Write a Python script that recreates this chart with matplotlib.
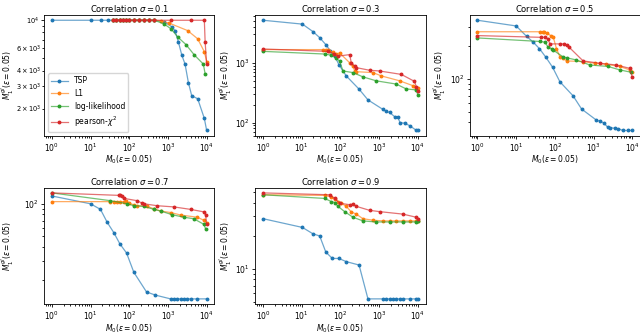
import matplotlib
matplotlib.use("Agg")
import matplotlib.pyplot as plt
from matplotlib.colors import to_rgba

plt.rcParams["font.size"] = 5.5

# sigma = 0.1
s1_tsp_x = [1, 10, 19, 28, 37, 46, 56, 68, 83, 101, 136, 183, 246, 331, 446, 807, 1250, 1520, 1860, 2270, 2760, 3370, 4100, 5860, 8710, 10000]
s1_tsp_y = [10000, 10000, 10000, 10000, 10000, 10000, 10000, 10000, 10000, 10000, 10000, 10000, 10000, 10000, 10000, 9700, 8890, 8280, 6730, 5310, 4500, 3210, 2530, 2390, 1670, 1340]
s1_l1_x = [37, 46, 56, 68, 83, 101, 136, 183, 246, 331, 446, 660, 1090, 3230, 5860, 8710, 10000]
s1_l1_y = [10000, 10000, 10000, 10000, 10000, 10000, 10000, 10000, 10000, 10000, 10000, 9880, 9480, 8280, 7130, 5630, 4710]
s1_ll_x = [37, 46, 56, 68, 83, 101, 136, 183, 246, 331, 446, 807, 1210, 1800, 2930, 4800, 8190, 9130]
s1_ll_y = [10000, 10000, 10000, 10000, 10000, 10000, 10000, 10000, 10000, 10000, 10000, 9315, 8530, 7350, 6410, 5310, 4500, 3770]
s1_pc_x = [37, 46, 56, 68, 83, 101, 136, 183, 246, 331, 446, 1210, 3930, 8710, 9130, 10000]
s1_pc_y = [10000, 10000, 10000, 10000, 10000, 10000, 10000, 10000, 10000, 10000, 10000, 10000, 10000, 10000, 6730, 4520]

# sigma = 0.3
s3_tsp_x = [1, 10.4, 19.5, 29, 42, 55, 71, 91, 141, 302, 513, 1260, 1510, 1860, 2510, 3020, 3470, 4570, 6170, 8710, 10000]
s3_tsp_y = [5130, 4420, 3310, 2630, 2000, 1580, 1290, 933, 603, 363, 240, 166, 155, 148, 126, 123, 100, 98, 89, 76, 74]
s3_l1_x = [1, 35, 43, 48, 52, 64, 78, 95, 173, 210, 233, 256, 690, 1125, 3380, 7420, 9110, 10000]
s3_l1_y = [1660, 1660, 1660, 1660, 1550, 1520, 1400, 1460, 1000, 880, 730, 710, 686, 605, 500, 415, 380, 380]
s3_ll_x = [1, 39, 58, 75, 95, 116, 210, 380, 835, 2770, 5000, 9110, 10000]
s3_ll_y = [1550, 1400, 1340, 1210, 1065, 730, 686, 582, 500, 441, 366, 352, 291]
s3_pc_x = [1, 48, 70, 86, 173, 190, 233, 256, 565, 1020, 3720, 8150, 9110, 10000]
s3_pc_y = [1700, 1550, 1400, 1290, 1370, 1000, 880, 830, 750, 730, 640, 490, 400, 340]

# sigma = 0.5
s5_tsp_x = [1, 10, 18.6, 27.5, 40, 59, 87, 135, 295, 490, 1175, 1445, 1820, 2340, 2690, 3550, 4270, 5750, 7760, 10000]
s5_tsp_y = [344, 305, 245, 217, 189, 157, 128, 94, 70, 53, 42, 41, 39.6, 36, 35.8, 35.3, 35.1, 33.7, 33.7, 33.7]
s5_l1_x = [1, 41, 48, 52, 61, 78, 91, 110, 135, 163, 200, 536, 1070, 2140, 4700, 8550, 10000]
s5_l1_y = [270, 270, 270, 270, 263, 249, 240, 189, 159, 154, 146, 144, 139, 136, 130, 121, 115]
s5_ll_x = [1, 41, 55, 67, 82, 91, 163, 200, 360, 800, 2350, 4700, 9300]
s5_ll_y = [237, 220, 217, 195, 189, 183, 159, 156, 149, 134, 130, 121, 115]
s5_pc_x = [1, 45, 55, 67, 74, 135, 170, 200, 233, 536, 1450, 3870, 8550, 10000]
s5_pc_y = [249, 240, 240, 232, 209, 209, 209, 205, 195, 146, 139, 134, 125, 104]

# sigma = 0.7
s7_tsp_x = [1, 10, 18, 27, 40, 57, 85, 131, 279, 476, 1170, 1420, 1740, 2120, 2590, 3160, 3850, 5730, 10000]
s7_tsp_y = [118, 100, 88.8, 67.3, 54.1, 42.8, 35.2, 23.4, 15.4, 14.4, 13.3, 13.3, 13.3, 13.3, 13.3, 13.3, 13.3, 13.3, 13.3]
s7_l1_x = [1, 32.6, 39.6, 48.4, 59, 72, 84.5, 97, 131, 159, 290, 432, 645, 1170, 2120, 5730, 8520, 10000]
s7_l1_y = [104.7, 104.7, 104.7, 104.7, 104.7, 104.7, 106.8, 101.3, 98, 96, 94.8, 90, 85.8, 83.1, 78.8, 75.2, 70.4, 65.9]
s7_ll_x = [1, 32.6, 88, 131, 237, 432, 645, 1290, 2590, 4650, 8520, 9370]
s7_ll_y = [126, 106.8, 100, 96, 94.8, 88.8, 85.8, 79.3, 75.2, 72.8, 64.6, 58.9]
s7_pc_x = [1, 53.5, 59, 65, 74.7, 159, 215, 237, 525, 1420, 3850, 8520, 9370, 10000]
s7_pc_y = [126, 119.6, 119.6, 118, 112, 106.8, 101.3, 100, 96, 93.6, 88.8, 84.2, 78.8, 65]

# sigma = 0.9
s9_tsp_x = [1, 10.4, 19.5, 29, 41.7, 61.5, 91, 141, 302, 513, 1250, 1520, 1860, 2270, 2760, 3370, 4100, 6100, 9060, 10000]
s9_tsp_y = [28.6, 23.8, 20.8, 19.9, 14.2, 12.4, 12.4, 11.6, 10.8, 5.3, 5.3, 5.3, 5.3, 5.3, 5.3, 5.3, 5.3, 5.3, 5.3, 5.3]
s9_l1_x = [1, 39, 58, 71, 86, 105, 141, 190, 256, 380, 690, 1250, 1860, 2760, 4100, 6100, 9060, 10000]
s9_l1_y = [47.3, 46.7, 45.2, 42.9, 41, 39.6, 37.1, 33, 31.5, 28.6, 27.7, 27.3, 27.3, 27.3, 27.3, 27.3, 27.3, 27.3]
s9_ll_x = [1, 39, 58, 71, 86, 128, 210, 380, 835, 1860, 4100, 9060, 10000]
s9_ll_y = [47.3, 43.8, 41, 40.2, 37.1, 33.2, 29.5, 27.3, 26.7, 26.7, 26.7, 26.7, 27]
s9_pc_x = [1, 52.5, 71, 95.6, 172, 210, 256, 565, 1020, 4100, 9060, 10000]
s9_pc_y = [49.2, 47.3, 43.8, 39.6, 38.4, 38.9, 37.1, 34.1, 33.2, 31.5, 29.5, 28.6]

sigmas = ["0.1", "0.3", "0.5", "0.7", "0.9"]
labels = ["TSP", "L1", "log-likelihood", r"pearson-$\chi^2$"]
colors = ["#1f77b4", "#ff7f0e", "#2ca02c", "#d62728"]

panels = [
    [(s1_tsp_x, s1_tsp_y), (s1_l1_x, s1_l1_y), (s1_ll_x, s1_ll_y), (s1_pc_x, s1_pc_y)],
    [(s3_tsp_x, s3_tsp_y), (s3_l1_x, s3_l1_y), (s3_ll_x, s3_ll_y), (s3_pc_x, s3_pc_y)],
    [(s5_tsp_x, s5_tsp_y), (s5_l1_x, s5_l1_y), (s5_ll_x, s5_ll_y), (s5_pc_x, s5_pc_y)],
    [(s7_tsp_x, s7_tsp_y), (s7_l1_x, s7_l1_y), (s7_ll_x, s7_ll_y), (s7_pc_x, s7_pc_y)],
    [(s9_tsp_x, s9_tsp_y), (s9_l1_x, s9_l1_y), (s9_ll_x, s9_ll_y), (s9_pc_x, s9_pc_y)],
]

fig = plt.figure(figsize=(6.4, 3.35), dpi=100)
lefts = [0.069, 0.399, 0.734]
bottoms = [0.594, 0.092]
heights = [0.362, 0.348]
w = 0.266
# ylabel offset (axes fraction); panel 1 has the wide 6x10^3 style labels
ylab_x = [-0.163, -0.125, -0.125, -0.165, -0.125]

for i, series in enumerate(panels):
    r, c = divmod(i, 3)
    ax = fig.add_axes([lefts[c], bottoms[r], w, heights[r]])
    for (x, y), lab, col in zip(series, labels, colors):
        ax.plot(x, y, marker="o", ms=1.8, lw=0.9, color=to_rgba(col, 0.65),
                mfc=col, mec=col, label=lab)
    ax.set_xscale("log")
    ax.set_yscale("log")
    ax.set_title(r"Correlation $\sigma = %s$" % sigmas[i], fontsize=6.0, pad=2)
    ax.set_xlabel(r"$M_0(\varepsilon = 0.05)$", labelpad=0)
    ax.set_ylabel(r"$M_1^{gl}(\varepsilon = 0.05)$")
    ax.yaxis.set_label_coords(ylab_x[i], 0.5)
    ax.tick_params(which="both", pad=1.5, width=0.6)
    ax.tick_params(which="major", length=2.5)
    ax.tick_params(which="minor", length=1.5)
    if i == 0:
        ax.tick_params(axis="y", which="both", labelsize=4.8, pad=0.8)
    for s in ax.spines.values():
        s.set_linewidth(0.6)
    if i == 0:
        ax.legend(loc="lower left", fontsize=5.5, handlelength=2.2)

fig.savefig("out.png", dpi=100)
